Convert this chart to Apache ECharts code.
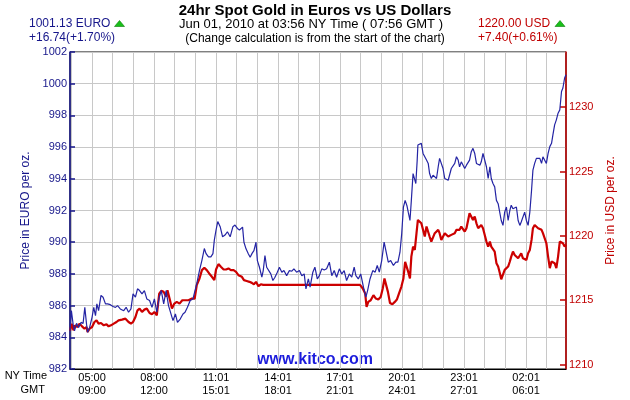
<!DOCTYPE html>
<html>
<head>
<meta charset="utf-8">
<script src="https://cdn.jsdelivr.net/npm/echarts@6/dist/echarts.min.js"></script>
<style>
    html, body { margin: 0; padding: 0; background: #fff; }
    #chart { width: 630px; height: 400px; }
</style>
</head>
<body>
<div id="chart"></div>
<script>
// time = minutes after 00:00 NY time on May 31 (236 = 03:56, 1676 = 03:56 next day)
var eurTimes = [
    236, 240, 245, 249, 255, 261, 268, 274, 279, 284,
    287, 293, 300, 305, 310, 314, 319, 326, 332, 339,
    345, 353, 361, 368, 374, 382, 392, 399, 406, 413,
    419, 426, 432, 438, 445, 452, 459, 467, 474, 481,
    488, 495, 501, 508, 515, 522, 527, 535, 542, 548,
    556, 564, 570, 577, 585, 593, 598, 604, 612, 619,
    626, 631, 638, 645, 651, 655, 660, 665, 672, 679,
    686, 693, 701, 709, 715, 722, 728, 733, 737, 741,
    747, 754, 759, 765, 770, 776, 780, 786, 793, 797,
    802, 807, 812, 819, 825, 831, 838, 844, 851, 857,
    865, 873, 880, 886, 894, 902, 909, 916, 921, 928,
    933, 941, 947, 954, 960, 967, 974, 981, 989, 996,
    1003, 1010, 1018, 1025, 1032, 1039, 1047, 1054, 1061, 1066,
    1073, 1080, 1088, 1095, 1100, 1107, 1115, 1122, 1128, 1134,
    1141, 1148, 1154, 1160, 1167, 1175, 1182, 1188, 1194, 1199,
    1204, 1209, 1214, 1218, 1223, 1227, 1232, 1237, 1240, 1244,
    1246, 1251, 1256, 1261, 1266, 1271, 1276, 1280, 1285, 1290,
    1295, 1300, 1305, 1309, 1314, 1319, 1324, 1329, 1334, 1338,
    1343, 1348, 1353, 1358, 1363, 1367, 1372, 1377, 1382, 1387,
    1392, 1396, 1401, 1406, 1411, 1416, 1421, 1426, 1430, 1435,
    1440, 1445, 1450, 1455, 1459, 1464, 1469, 1474, 1479, 1484,
    1488, 1493, 1498, 1503, 1508, 1513, 1517, 1522, 1527, 1532,
    1537, 1542, 1546, 1551, 1556, 1561, 1566, 1571, 1576, 1580,
    1585, 1590, 1595, 1600, 1605, 1609, 1614, 1619, 1624, 1629,
    1634, 1638, 1643, 1648, 1653, 1658, 1663, 1667, 1672, 1676
];
var eurPrices = [
    984.41, 985.68, 984.83, 984.41, 984.88, 984.62, 984.94, 984.88, 985.89, 984.83,
    984.31, 984.62, 985.26, 985.89, 985.36, 986.11, 985.68, 986.64, 986.53, 986.11,
    986.11, 986.06, 985.94, 985.89, 986.00, 985.79, 985.68, 985.89, 985.58, 985.79,
    986.74, 986.53, 987.06, 986.95, 986.74, 986.95, 986.42, 986.32, 985.89, 986.42,
    985.58, 986.53, 986.95, 986.11, 986.95, 986.00, 985.89, 985.05, 985.47, 984.94,
    985.15, 985.47, 985.58, 985.89, 986.32, 986.42, 986.53, 987.38, 988.22, 988.86,
    989.60, 989.28, 989.07, 989.07, 989.28, 990.13, 990.77, 991.30, 990.98, 990.34,
    990.45, 990.66, 990.34, 990.98, 991.08, 990.87, 990.77, 990.78, 990.95, 990.00,
    989.58, 989.26, 989.05, 989.31, 989.47, 990.00, 988.84, 988.42, 987.79, 988.21,
    989.16, 988.42, 988.32, 988.00, 987.58, 987.79, 988.11, 988.42, 988.11, 988.21,
    987.89, 988.21, 988.17, 988.32, 988.11, 988.21, 987.89, 988.00, 987.05, 987.68,
    987.16, 988.11, 988.42, 987.68, 987.89, 988.32, 988.25, 988.32, 988.74, 987.89,
    988.21, 987.79, 988.32, 988.00, 988.21, 987.58, 988.00, 987.79, 988.42, 987.89,
    987.68, 988.00, 987.16, 986.53, 986.95, 987.68, 988.21, 988.11, 988.53, 988.11,
    988.84, 990.00, 989.37, 988.74, 988.84, 988.53, 988.74, 988.74, 989.37, 990.53,
    992.21, 992.63, 992.32, 991.89, 991.37, 992.64, 994.33, 994.23, 993.70, 995.18,
    996.13, 996.24, 996.24, 995.60, 995.39, 995.18, 994.97, 994.33, 994.02, 994.23,
    994.12, 994.02, 994.76, 995.29, 995.18, 994.65, 994.02, 994.12, 993.91, 993.91,
    994.65, 994.76, 994.97, 995.39, 995.18, 994.76, 995.07, 994.97, 994.65, 994.86,
    994.76, 995.18, 995.71, 995.92, 995.60, 994.97, 994.86, 994.86, 995.07, 995.60,
    995.71, 994.76, 994.02, 994.76, 994.02, 993.70, 993.49, 992.64, 992.43, 992.54,
    991.37, 991.06, 991.90, 992.22, 991.37, 992.01, 992.33, 992.11, 992.22, 992.22,
    991.37, 991.06, 991.27, 991.16, 991.90, 991.37, 991.06, 991.90, 993.28, 994.55,
    994.97, 995.29, 995.18, 995.29, 994.97, 995.39, 995.29, 994.97, 995.60, 996.03,
    996.24, 996.77, 997.40, 997.72, 998.14, 998.35, 999.51, 999.73, 1000.36, 1000.57
];

var usdTimes = [
    236, 241, 246, 251, 258, 264, 271, 278, 284, 287,
    293, 300, 307, 313, 319, 326, 334, 342, 348, 355,
    363, 371, 377, 387, 397, 406, 413, 419, 426, 432,
    438, 445, 452, 459, 467, 474, 481, 488, 495, 501,
    508, 515, 519, 525, 532, 539, 546, 554, 562, 570,
    580, 590, 598, 604, 612, 619, 626, 633, 640, 648,
    655, 660, 667, 674, 682, 689, 696, 703, 711, 718,
    725, 735, 741, 749, 757, 764, 770, 776, 783, 790,
    797, 1078, 1086, 1093, 1097, 1102, 1109, 1117, 1124, 1131,
    1138, 1144, 1149, 1154, 1159, 1165, 1172, 1179, 1185, 1191,
    1198, 1204, 1209, 1214, 1218, 1223, 1227, 1232, 1237, 1242,
    1246, 1251, 1256, 1261, 1266, 1271, 1276, 1280, 1285, 1290,
    1295, 1300, 1305, 1309, 1314, 1319, 1324, 1329, 1334, 1338,
    1343, 1348, 1353, 1358, 1363, 1367, 1372, 1377, 1382, 1387,
    1392, 1396, 1401, 1406, 1411, 1416, 1421, 1426, 1430, 1435,
    1440, 1445, 1450, 1455, 1459, 1464, 1469, 1474, 1479, 1484,
    1488, 1493, 1498, 1503, 1508, 1513, 1517, 1522, 1527, 1532,
    1537, 1542, 1546, 1551, 1556, 1561, 1566, 1571, 1576, 1580,
    1585, 1590, 1595, 1600, 1605, 1609, 1614, 1619, 1624, 1629,
    1634, 1638, 1643, 1648, 1653, 1658, 1663, 1667, 1672, 1676
];
var usdPrices = [
    1212.63, 1213.18, 1212.66, 1213.05, 1212.92, 1213.18, 1212.97, 1212.79, 1212.92, 1212.53,
    1212.79, 1212.92, 1213.31, 1213.44, 1213.18, 1213.23, 1213.05, 1213.13, 1212.97, 1213.05,
    1213.18, 1213.31, 1213.44, 1213.49, 1213.57, 1213.31, 1213.18, 1213.31, 1213.70, 1214.22,
    1214.35, 1214.09, 1214.27, 1214.35, 1214.01, 1213.91, 1214.09, 1213.83, 1215.52, 1215.73,
    1215.65, 1215.26, 1215.78, 1215.13, 1214.35, 1214.74, 1214.87, 1214.74, 1215.00, 1215.00,
    1215.00, 1215.13, 1215.13, 1216.17, 1216.69, 1217.34, 1217.52, 1217.34, 1217.08, 1216.82,
    1216.56, 1217.39, 1217.81, 1217.60, 1217.39, 1217.39, 1217.47, 1217.34, 1217.34, 1217.21,
    1216.95, 1216.82, 1216.56, 1216.50, 1216.43, 1216.35, 1216.24, 1216.43, 1216.09, 1216.24,
    1216.19, 1216.19, 1215.91, 1215.52, 1214.48, 1214.87, 1215.00, 1215.39, 1215.13, 1215.05,
    1215.26, 1215.91, 1216.69, 1216.56, 1215.65, 1214.79, 1214.69, 1214.87, 1215.05, 1215.52,
    1216.04, 1216.69, 1217.98, 1217.98, 1217.20, 1216.69, 1218.39, 1219.17, 1218.91, 1220.21,
    1221.24, 1221.30, 1220.98, 1220.85, 1219.95, 1220.73, 1220.60, 1219.95, 1219.56, 1219.69,
    1220.21, 1220.21, 1220.47, 1220.21, 1219.69, 1219.56, 1220.21, 1220.21, 1219.95, 1219.95,
    1220.08, 1220.08, 1220.21, 1220.47, 1220.60, 1220.47, 1220.73, 1220.60, 1220.34, 1220.60,
    1221.24, 1221.76, 1221.63, 1221.24, 1221.50, 1220.98, 1220.60, 1220.73, 1220.85, 1220.60,
    1220.60, 1219.56, 1219.17, 1219.56, 1219.17, 1219.04, 1218.78, 1217.88, 1217.62, 1217.10,
    1216.63, 1216.71, 1217.36, 1217.49, 1217.62, 1218.01, 1218.39, 1218.78, 1218.52, 1218.65,
    1218.26, 1218.39, 1218.65, 1218.26, 1218.39, 1218.13, 1218.65, 1218.91, 1219.69, 1220.60,
    1220.85, 1220.98, 1220.60, 1220.60, 1220.47, 1220.21, 1220.21, 1219.43, 1218.39, 1217.49,
    1218.01, 1217.88, 1217.88, 1217.49, 1218.39, 1219.56, 1219.69, 1219.43, 1219.17, 1219.30
];

// hourly grid lines and the time labels under the chart
var hourTicks = [240, 300, 360, 420, 480, 540, 600, 660, 720, 780, 840, 900,
    960, 1020, 1080, 1140, 1200, 1260, 1320, 1380, 1440, 1500, 1560, 1620];
var labelTimes = [300, 480, 660, 840, 1020, 1200, 1380, 1560];
var nyLabels = ['05:00', '08:00', '11:01', '14:01', '17:01', '20:01', '23:01', '02:01'];
var gmtLabels = ['09:00', '12:00', '15:01', '18:01', '21:01', '24:01', '27:01', '06:01'];
var usdTicks = [1210, 1215, 1220, 1225, 1230];

var FONT = 'Liberation Sans, Arial, sans-serif';
var EUR_COLOR = '#16168a';
var USD_COLOR = '#c00000';

function pairs(xs, ys) {
    var out = [];
    for (var i = 0; i < xs.length; i++) {
        out.push([xs[i], ys[i]]);
    }
    return out;
}

function plain(v) {
    return String(v);
}

function upTriangle(x, y) {
    return {
        type: 'polygon',
        shape: { points: [[x, y + 6], [x + 10, y + 6], [x + 5, y]] },
        style: { fill: '#19c019', stroke: '#0a7a0a', lineWidth: 0.6 }
    };
}

function text(x, y, str, size, color, align, weight) {
    return {
        type: 'text',
        x: x, y: y,
        style: {
            text: str,
            font: (weight || 'normal') + ' ' + size + 'px ' + FONT,
            fill: color,
            align: align || 'left',
            verticalAlign: 'middle'
        }
    };
}

var myChart = echarts.init(document.getElementById('chart'), null, { renderer: 'canvas' });

var option = {
    animation: false,
    backgroundColor: '#fff',
    textStyle: { fontFamily: FONT },
    grid: {
        left: 70, right: 64, top: 52, bottom: 31,
        show: true, borderColor: '#000', borderWidth: 1, backgroundColor: '#fff'
    },
    xAxis: {
        type: 'value',
        min: 236, max: 1676,
        axisLine: { show: true, lineStyle: { color: '#000', width: 1 } },
        axisTick: { show: false, customValues: hourTicks },
        splitLine: { show: true, lineStyle: { color: '#c8c8c8', width: 1 } },
        axisLabel: {
            customValues: labelTimes,
            margin: 2,
            fontSize: 11,
            lineHeight: 13.5,
            color: '#000',
            formatter: function (v) {
                var i = labelTimes.indexOf(v);
                return i < 0 ? '' : nyLabels[i] + '\n' + gmtLabels[i];
            }
        }
    },
    yAxis: [{
        type: 'value',
        position: 'left',
        min: 982, max: 1002, interval: 2,
        name: 'Price in EURO per oz.',
        nameLocation: 'middle',
        nameRotate: 90,
        nameGap: 33,
        nameTextStyle: { color: EUR_COLOR, fontSize: 12 },
        axisLine: { show: true, lineStyle: { color: EUR_COLOR, width: 1.5 } },
        axisTick: { show: true, inside: true, length: 5, lineStyle: { color: EUR_COLOR, width: 1.5 } },
        axisLabel: { color: EUR_COLOR, fontSize: 11, margin: 3, formatter: plain },
        splitLine: { show: true, lineStyle: { color: '#c8c8c8', width: 1 } }
    }, {
        type: 'value',
        position: 'right',
        min: 1209.656, max: 1234.293,
        name: 'Price in USD per oz.',
        nameLocation: 'middle',
        nameRotate: 90,
        nameGap: 34,
        nameTextStyle: { color: USD_COLOR, fontSize: 12 },
        axisLine: { show: true, lineStyle: { color: USD_COLOR, width: 1.5 } },
        axisTick: { show: true, inside: true, length: 6, customValues: usdTicks, lineStyle: { color: USD_COLOR, width: 1.5 } },
        axisLabel: { color: USD_COLOR, fontSize: 11, margin: 3, customValues: usdTicks, formatter: plain },
        splitLine: { show: false }
    }],
    series: [{
        name: 'USD',
        type: 'line',
        yAxisIndex: 1,
        showSymbol: false,
        data: pairs(usdTimes, usdPrices),
        lineStyle: { color: '#cc0000', width: 2.2 },
        itemStyle: { color: '#cc0000' },
        z: 2
    }, {
        name: 'EURO',
        type: 'line',
        yAxisIndex: 0,
        showSymbol: false,
        data: pairs(eurTimes, eurPrices),
        lineStyle: { color: '#2424a4', width: 1.2 },
        itemStyle: { color: '#2424a4' },
        z: 3
    }],
    graphic: [
        text(315, 10.5, '24hr Spot Gold in Euros vs US Dollars', 15, '#000', 'center', 'bold'),
        text(311, 24.5, 'Jun 01, 2010 at 03:56 NY Time ( 07:56 GMT )', 13, '#000', 'center'),
        text(315, 38.5, '(Change calculation is from the start of the chart)', 12, '#000', 'center'),
        text(29, 24, '1001.13 EURO', 12, EUR_COLOR),
        upTriangle(114.5, 20.5),
        text(29, 38, '+16.74(+1.70%)', 12, EUR_COLOR),
        text(478, 24, '1220.00 USD', 12, USD_COLOR),
        upTriangle(555, 20.5),
        text(478, 38, '+7.40(+0.61%)', 12, USD_COLOR),
        text(47, 376, 'NY Time', 11, '#000', 'right'),
        text(45, 389.5, 'GMT', 11, '#000', 'right'),
        text(315, 359.5, 'www.kitco.com', 16, '#1c1cdc', 'center', 'bold')
    ]
};

myChart.setOption(option);
</script>
</body>
</html>
